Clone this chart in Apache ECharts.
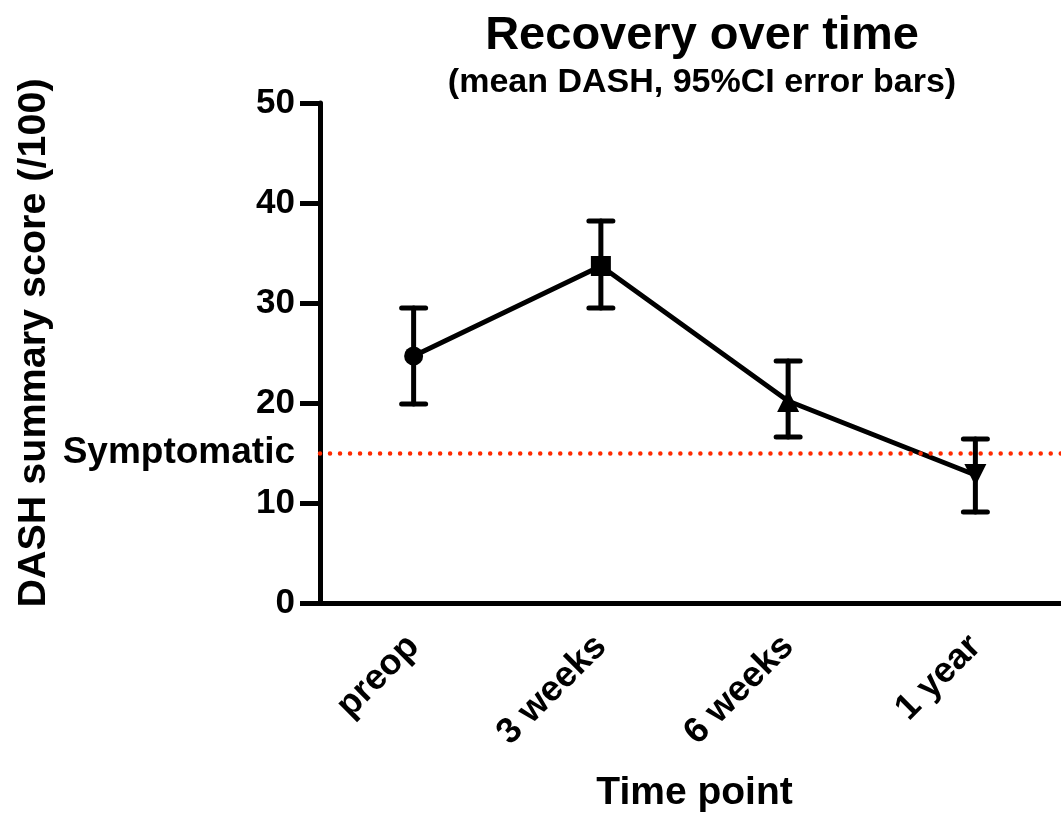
<!DOCTYPE html>
<html>
<head>
<meta charset="utf-8">
<script src="https://cdn.jsdelivr.net/npm/echarts@6/dist/echarts.min.js"></script>
<style>
html,body{margin:0;padding:0;background:#fff;}
#chart{width:1061px;height:813px;}
</style>
</head>
<body>
<div id="chart"></div>
<script>
const categories = ['preop', '3 weeks', '6 weeks', '1 year'];
const meanScores = [24.7, 33.7, 20.2, 12.8];
const ciLower = [19.9, 29.5, 16.6, 9.1];
const ciUpper = [29.5, 38.2, 24.2, 16.4];
const markerSymbols = ['circle', 'rect', 'triangle', 'triangle'];
const markerRotations = [0, 0, 0, 180];
const symptomaticThreshold = 15;
const yTicks = [0, 10, 20, 30, 40, 50];

const FONT = "'Liberation Sans', Arial, sans-serif";
const chart = echarts.init(document.getElementById('chart'));

const lineData = meanScores.map((v, i) => ({
  value: v,
  symbol: markerSymbols[i],
  symbolRotate: markerRotations[i],
  symbolSize: markerSymbols[i] === 'circle' ? 19 : (markerSymbols[i] === 'rect' ? 20 : 22)
}));
const errData = categories.map((c, i) => [i, ciLower[i], ciUpper[i]]);

chart.setOption({
  backgroundColor: '#fff',
  animation: false,
  title: {
    text: 'Recovery over time',
    subtext: '(mean DASH, 95%CI error bars)',
    left: 697,
    top: 8,
    textAlign: 'center',
    itemGap: 6,
    textStyle: {fontFamily: FONT, fontSize: 47, fontWeight: 'bold', color: '#000'},
    subtextStyle: {fontFamily: FONT, fontSize: 34, fontWeight: 'bold', color: '#000'}
  },
  grid: {left: 320, top: 103, right: -8, bottom: 210, containLabel: false, outerBoundsMode: 'none'},
  xAxis: {
    type: 'category',
    data: categories,
    boundaryGap: true,
    name: 'Time point',
    nameLocation: 'middle',
    nameGap: 171,
    nameTextStyle: {fontFamily: FONT, fontSize: 39, fontWeight: 'bold', color: '#000'},
    axisLine: {lineStyle: {color: '#000', width: 5}},
    axisTick: {alignWithLabel: true, length: 15, lineStyle: {color: '#000', width: 5}},
    axisLabel: {rotate: 45, margin: 38, fontFamily: FONT, fontSize: 36, fontWeight: 'bold', color: '#000'},
    splitLine: {show: false}
  },
  yAxis: {
    type: 'value',
    min: 0, max: 50, interval: 10,
    name: 'DASH summary score (/100)',
    nameLocation: 'middle',
    nameGap: 266,
    nameTextStyle: {fontFamily: FONT, fontSize: 39.5, fontWeight: 'bold', color: '#000', padding: [0, 0, 0, 20]},
    axisLine: {show: true, lineStyle: {color: '#000', width: 5}},
    axisTick: {show: true, length: 20, lineStyle: {color: '#000', width: 5}},
    axisLabel: {margin: 25, fontFamily: FONT, fontSize: 35, fontWeight: 'bold', color: '#000',
      formatter: v => yTicks.includes(v) ? String(v) : ''},
    splitLine: {show: false}
  },
  series: [
    {
      type: 'custom',
      data: errData,
      encode: {x: 0, y: [1, 2]},
      z: 3,
      renderItem: function (params, api) {
        const x = api.value(0);
        const lo = api.coord([x, api.value(1)]);
        const hi = api.coord([x, api.value(2)]);
        const hw = 12;
        const style = {stroke: '#000', lineWidth: 5, lineCap: 'round'};
        return {
          type: 'group',
          children: [
            {type: 'line', shape: {x1: lo[0], y1: lo[1], x2: hi[0], y2: hi[1]}, style: style},
            {type: 'line', shape: {x1: lo[0] - hw, y1: lo[1], x2: lo[0] + hw, y2: lo[1]}, style: style},
            {type: 'line', shape: {x1: hi[0] - hw, y1: hi[1], x2: hi[0] + hw, y2: hi[1]}, style: style}
          ]
        };
      }
    },
    {
      type: 'line',
      data: lineData,
      z: 4,
      lineStyle: {color: '#000', width: 4.8},
      itemStyle: {color: '#000'},
      markLine: {
        silent: true,
        symbol: 'none',
        data: [{yAxis: symptomaticThreshold}],
        lineStyle: {color: '#ff2a00', width: 4.5, type: [0.01, 10], cap: 'round'},
        label: {show: true, position: 'start', distance: 25, formatter: 'Symptomatic',
          fontFamily: FONT, fontSize: 37, fontWeight: 'bold', color: '#000'}
      }
    }
  ]
});
</script>
</body>
</html>
